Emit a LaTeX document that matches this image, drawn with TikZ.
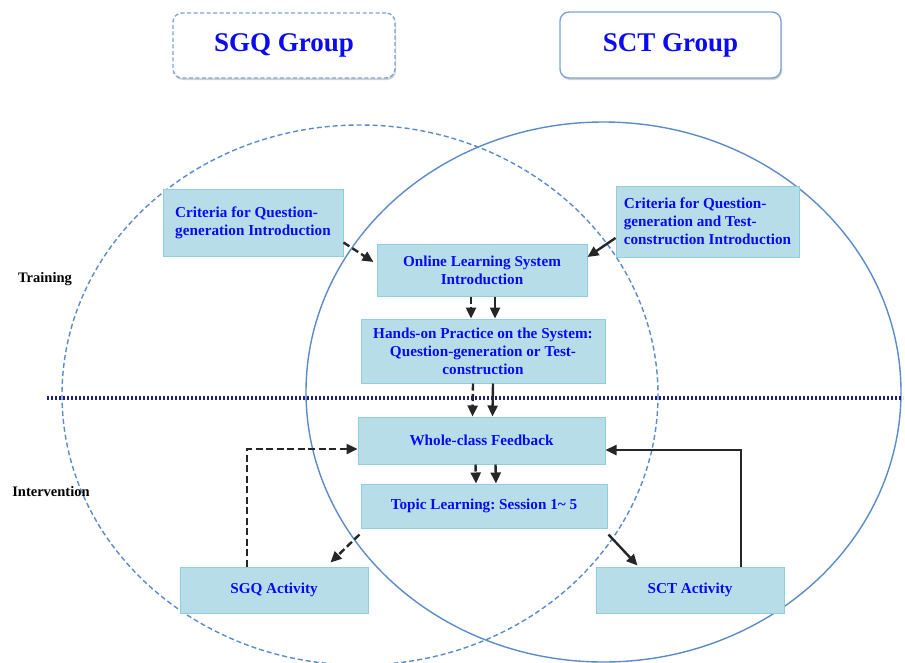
\documentclass[tikz,border=0pt]{standalone}
\usepackage{fontspec}
\setmainfont{Liberation Serif}
\usetikzlibrary{arrows.meta,shadows}
\definecolor{boxfill}{HTML}{B7DDE8}
\definecolor{boxline}{HTML}{92CDDC}
\definecolor{ringblue}{HTML}{5B8BC9}
\definecolor{titleline}{HTML}{7DA4D6}
\definecolor{navydot}{RGB}{30,30,128}
\definecolor{arrowgray}{HTML}{262626}
\definecolor{txtblue}{RGB}{10,10,245}
\frenchspacing
\begin{document}
\begin{tikzpicture}[x=1pt,y=-1pt,
  box/.style={draw=boxline, fill=boxfill, line width=1pt, inner sep=0pt, align=center,
    font=\fontsize{15.2}{18}\selectfont\bfseries\frenchspacing, text=txtblue},
  lbox/.style={box, align=left},
  titlebox/.style={draw=titleline, fill=white, line width=1.4pt, rounded corners=9pt,
    inner sep=0pt, font=\fontsize{27}{30}\selectfont\bfseries, text=txtblue,
    drop shadow={shadow xshift=1pt, shadow yshift=-2pt, opacity=0.18, fill=black}},
  phase/.style={font=\fontsize{14.5}{17}\selectfont\bfseries, text=black, inner sep=0pt},
  flow/.style={draw=arrowgray, line width=2.4pt, -{Triangle[length=11pt,width=10pt]}},
  dflow/.style={flow, dash pattern=on 7pt off 3.5pt},
  ring/.style={draw=ringblue, line width=1.4pt},
]
\useasboundingbox (0,0) rectangle (905,662);

% group rings
\draw[ring, dash pattern=on 5pt off 3pt] (360,395) ellipse [x radius=298, y radius=270];
\draw[ring] (603.5,392) ellipse [x radius=297.5, y radius=270];

% phase divider
\coordinate (divL) at (47,398);
\coordinate (divR) at (903,398);
\draw[navydot, line width=3.6pt, dash pattern=on 2.4pt off 1.6pt] (divL) -- (divR);

% titles
\node[titlebox, dash pattern=on 4pt off 2.5pt, minimum width=222pt, minimum height=65pt] (sgqg) at (284,45.5) {SGQ Group};
\node[titlebox, minimum width=221pt, minimum height=66pt] (sctg) at (670.5,45) {SCT Group};

% phase labels
\node[phase] (training) at (45,279) {Training};
\node[phase] (intervention) at (51,492) {Intervention};

% boxes
\node[lbox, minimum width=180pt, minimum height=67pt] (crit1) at (253,222.5)
  {Criteria for Question-\\generation Introduction};
\node[box, minimum width=210pt, minimum height=52pt] (online) at (482,270)
  {Online Learning System\\Introduction};
\node[box, minimum width=244pt, minimum height=64pt] (hands) at (483,351)
  {Hands-on Practice on the System:\\Question-generation or Test-\\construction};
\node[lbox, minimum width=183pt, minimum height=71pt] (crit2) at (707.5,221.5)
  {Criteria for Question-\\generation and Test-\\construction Introduction};
\node[box, minimum width=247pt, minimum height=47pt] (wc) at (481.5,440.5)
  {Whole-class Feedback};
\node[box, minimum width=246pt, minimum height=44pt] (topic) at (484,506)
  {Topic Learning: Session 1\textasciitilde\ 5};
\node[box, minimum width=188pt, minimum height=46pt] (sgq) at (274,590)
  {SGQ Activity};
\node[box, minimum width=188pt, minimum height=46pt] (sct) at (690,590)
  {SCT Activity};

% connectors
\draw[dflow] ([yshift=14pt]crit1.south east) -- ([xshift=-3pt,yshift=8pt]online.west);
\draw[flow] ([yshift=-16.5pt]crit2.west) -- ([yshift=13pt]online.east);

\draw[dflow] ([xshift=-11pt]online.south) -- ([xshift=-12pt]hands.north);
\draw[flow] ([xshift=13pt]online.south) -- ([xshift=12pt]hands.north);

\draw[dflow] ([xshift=-10pt]hands.south) -- ([xshift=-9pt]wc.north);
\draw[flow] ([xshift=10pt]hands.south) -- ([xshift=11pt]wc.north);

\draw[dflow] ([xshift=-6pt]wc.south) -- ([xshift=-8pt]topic.north);
\draw[flow] ([xshift=14pt]wc.south) -- ([xshift=12pt]topic.north);

\draw[dflow] ([xshift=-1pt,yshift=-6pt]topic.south west) -- ([xshift=-38pt,yshift=4pt]sgq.north east);
\draw[flow] ([xshift=1pt,yshift=-6pt]topic.south east) -- ([xshift=42pt,yshift=1pt]sct.north west);

\draw[dflow] ([xshift=-27pt]sgq.north) |- ([yshift=-8.5pt]wc.west);
\draw[flow] ([xshift=51pt]sct.north) |- ([yshift=-9.5pt]wc.east);
\end{tikzpicture}
\end{document}
